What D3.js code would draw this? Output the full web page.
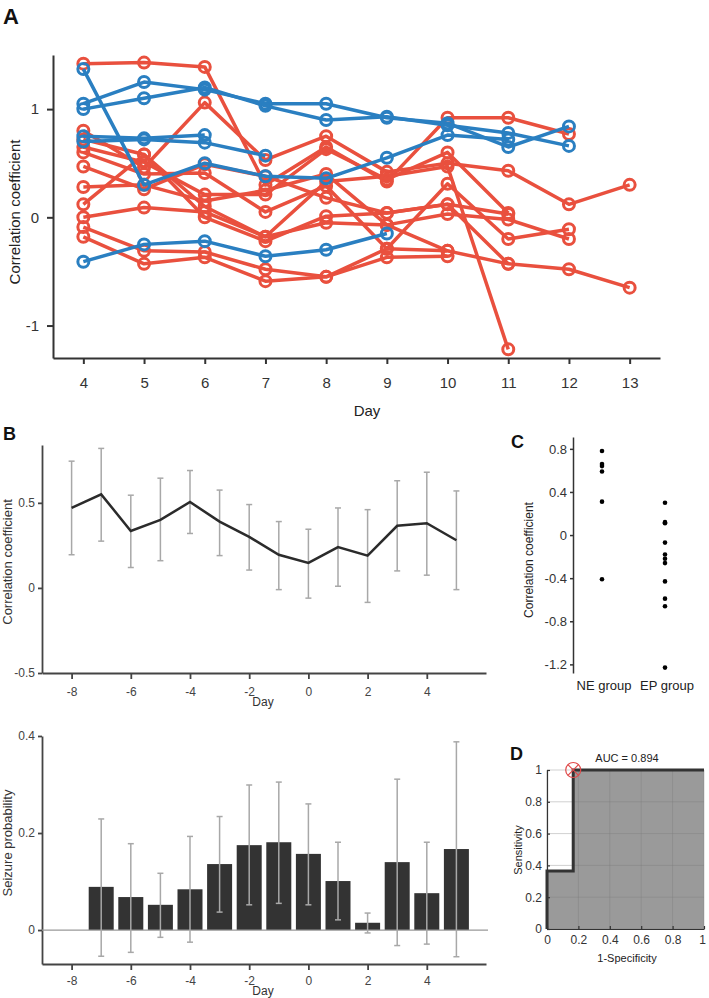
<!DOCTYPE html>
<html>
<head>
<meta charset="utf-8">
<script src="https://cdn.jsdelivr.net/npm/d3@7"></script>
<style>
  body { margin: 0; background: #fff; }
  svg { font-family: Arial, "Liberation Sans", sans-serif; }
</style>
</head>
<body>
<svg id="chart" width="709" height="998"></svg>
<script>
// ---- data ----
let daysA = [4, 5, 6, 7, 8, 9, 10, 11, 12, 13]
// NE group (blue), values per day starting at day 4, null = no recording
let neSeries = [
  [1.37, 0.30, 0.50, 0.38, 0.36, 0.55, 0.76, 0.72],
  [1.05, 1.25, 1.18, 1.05, 1.05, 0.92, 0.87, 0.65, 0.84],
  [1.00, 1.10, 1.20, 1.03, 0.90, 0.93, 0.85, 0.78, 0.66],
  [0.75, 0.73, 0.76],
  [0.70, 0.72, 0.69, 0.57],
  [-0.41, -0.25, -0.22, -0.36, -0.30, -0.15]
]
// EP group (red)
let epSeries = [
  [1.42, 1.43, 1.39, 0.30, 0.65, 0.33, 0.92, 0.92, 0.77],
  [0.80, 0.46, 1.06, 0.53, 0.75, 0.42, 0.50, 0.43, 0.12, 0.30],
  [0.72, 0.58, 0.10, -0.18, 0.33, 0.38, 0.47, -1.22],
  [0.65, 0.51, 0.21, 0.21, 0.63, 0.35, 0.60, 0.04],
  [0.60, 0.40, 0.41, 0.05, 0.29, -0.29, 0.31, -0.20, -0.11],
  [0.47, 0.26, 0.49, 0.38, 0.18, 0.04, 0.12, -0.43],
  [0.28, 0.30, 0.15, 0.25, 0.40, -0.07, 0.03, -0.02, -0.20],
  [0.12, 0.58, 0.00, -0.22, 0.01, 0.04, 0.12, 0.03],
  [0.00, 0.09, 0.05, -0.18, -0.05, -0.07, -0.31],
  [-0.09, -0.31, -0.32, -0.48, -0.55, -0.29, -0.31, -0.43, -0.48, -0.65],
  [-0.18, -0.43, -0.37, -0.59, -0.55, -0.37, -0.36]
]

let daysB = [-8, -7, -6, -5, -4, -3, -2, -1, 0, 1, 2, 3, 4, 5]
let corrMean = [0.47, 0.55, 0.335, 0.40, 0.505, 0.39, 0.30, 0.195, 0.147, 0.24, 0.19, 0.365, 0.38, 0.28]
let corrHigh = [0.745, 0.82, 0.545, 0.645, 0.69, 0.575, 0.49, 0.39, 0.345, 0.47, 0.46, 0.63, 0.68, 0.57]
let corrLow = [0.195, 0.275, 0.12, 0.16, 0.32, 0.19, 0.105, -0.01, -0.06, 0.01, -0.085, 0.10, 0.075, -0.01]

let seizProb = [0, 0.089, 0.068, 0.052, 0.084, 0.136, 0.175, 0.181, 0.157, 0.101, 0.015, 0.14, 0.076, 0.167]
let seizHigh = [null, 0.229, 0.178, 0.117, 0.193, 0.234, 0.299, 0.305, 0.26, 0.181, 0.035, 0.311, 0.181, 0.388]
let seizLow = [null, -0.054, -0.046, -0.015, -0.025, 0.037, 0.052, 0.055, 0.052, 0.021, -0.006, -0.032, -0.029, -0.055]

let groups = ['NE group', 'EP group']
let neCorr = [0.78, 0.66, 0.64, 0.59, 0.31, -0.41]
let epCorr = [0.30, 0.12, 0.11, -0.07, -0.18, -0.22, -0.26, -0.43, -0.59, -0.66, -1.23]

let rocFpr = [0, 0, 0.167, 0.167, 1]
let rocTpr = [0, 0.364, 0.364, 1, 1]
let cutFpr = 0.167
let cutTpr = 1
let aucText = 'AUC = 0.894'

let red = '#e9503e'
let blue = '#2a7fc1'

let svg = d3.select('#chart')

// plain number labels with an ASCII hyphen, like the original figure
let plain = d => String(+d.toFixed(2))

let styleAxis = (g, color, size, width) => {
  g.selectAll('path').attr('stroke', color).attr('stroke-width', width)
  g.selectAll('line').attr('stroke', color).attr('stroke-width', width)
  g.selectAll('text').attr('fill', color).style('font-size', size + 'px').attr('font-family', null)
}

let panelLabel = (t, x, y, size) => {
  svg.append('text').text(t).attr('x', x).attr('y', y)
    .style('font-size', size + 'px').style('font-weight', 'bold').attr('fill', '#111')
}

// ---- panel A ----
let drawA = () => {
  let x = d3.scaleLinear().domain([3.5, 13.5]).range([53, 660])
  let y = d3.scaleLinear().domain([-1.3, 1.5]).range([358, 55])

  let xAxis = svg.append('g').attr('transform', 'translate(0,358)')
    .call(d3.axisBottom(x).tickValues(daysA).tickFormat(plain).tickSize(6).tickSizeOuter(0).tickPadding(13))
  styleAxis(xAxis, '#333', 15, 2)
  let yAxis = svg.append('g').attr('transform', 'translate(53,0)')
    .call(d3.axisLeft(y).tickValues([-1, 0, 1]).tickFormat(plain).tickSize(6).tickSizeOuter(0).tickPadding(8))
  styleAxis(yAxis, '#333', 15, 2)

  svg.append('text').text('Day').attr('x', 367).attr('y', 416).attr('text-anchor', 'middle')
    .style('font-size', '15px').attr('fill', '#222')
  svg.append('text').text('Correlation coefficient')
    .attr('transform', 'translate(20,212) rotate(-90)').attr('text-anchor', 'middle')
    .style('font-size', '15px').attr('fill', '#222')

  let line = d3.line().defined(d => d[1] !== null).x(d => x(d[0])).y(d => y(d[1]))
  let drawSeries = (series, color) => {
    series.forEach(vals => {
      let pts = vals.map((v, i) => [daysA[i], v])
      svg.append('path').datum(pts).attr('d', line)
        .attr('fill', 'none').attr('stroke', color).attr('stroke-width', 3.5).attr('stroke-linejoin', 'round')
      svg.append('g').selectAll('circle').data(pts).enter().append('circle')
        .attr('cx', d => x(d[0])).attr('cy', d => y(d[1])).attr('r', 5.5)
        .attr('fill', 'none').attr('stroke', color).attr('stroke-width', 3)
    })
  }
  drawSeries(epSeries, red)
  drawSeries(neSeries, blue)

  panelLabel('A', 3, 24, 22)
}

// ---- panel B ----
let xB = d3.scaleLinear().domain([-9, 6]).range([42, 486])

let drawBTop = () => {
  let y = d3.scaleLinear().domain([-0.5, 0.84]).range([673, 445])
  let xAxis = svg.append('g').attr('transform', 'translate(0,673)')
    .call(d3.axisBottom(xB).tickValues([-8, -6, -4, -2, 0, 2, 4]).tickFormat(plain).tickSize(6).tickSizeOuter(0).tickPadding(8))
  styleAxis(xAxis, '#444', 12, 1.8)
  let yAxis = svg.append('g').attr('transform', 'translate(42,0)')
    .call(d3.axisLeft(y).tickValues([-0.5, 0, 0.5]).tickFormat(plain).tickSize(4).tickSizeOuter(0).tickPadding(3))
  styleAxis(yAxis, '#444', 12, 1.8)

  svg.append('text').text('Day').attr('x', 263).attr('y', 706).attr('text-anchor', 'middle')
    .style('font-size', '12px').attr('fill', '#333')
  svg.append('text').text('Correlation coefficient')
    .attr('transform', 'translate(12,562) rotate(-90)').attr('text-anchor', 'middle')
    .style('font-size', '13px').attr('fill', '#333')

  let eb = svg.append('g')
  daysB.forEach((d, i) => {
    eb.append('line').attr('x1', xB(d)).attr('x2', xB(d)).attr('y1', y(corrLow[i])).attr('y2', y(corrHigh[i]))
    eb.append('line').attr('x1', xB(d) - 3).attr('x2', xB(d) + 3).attr('y1', y(corrLow[i])).attr('y2', y(corrLow[i]))
    eb.append('line').attr('x1', xB(d) - 3).attr('x2', xB(d) + 3).attr('y1', y(corrHigh[i])).attr('y2', y(corrHigh[i]))
  })
  eb.selectAll('line').attr('stroke', '#a8a8a8').attr('stroke-width', 1.5)

  let line = d3.line().x((d, i) => xB(daysB[i])).y(d => y(d))
  svg.append('path').datum(corrMean).attr('d', line).attr('fill', 'none')
    .attr('stroke', '#2b2b2b').attr('stroke-width', 2.5)

  panelLabel('B', 3, 440, 18)
}

let drawBBottom = () => {
  let y = d3.scaleLinear().domain([-0.07, 0.4]).range([964, 736])
  let xAxis = svg.append('g').attr('transform', 'translate(0,964)')
    .call(d3.axisBottom(xB).tickValues([-8, -6, -4, -2, 0, 2, 4]).tickFormat(plain).tickSize(6).tickSizeOuter(0).tickPadding(6))
  styleAxis(xAxis, '#444', 12, 1.8)
  let yAxis = svg.append('g').attr('transform', 'translate(42,0)')
    .call(d3.axisLeft(y).tickValues([0, 0.2, 0.4]).tickFormat(plain).tickSize(4).tickSizeOuter(0).tickPadding(3))
  styleAxis(yAxis, '#444', 12, 1.8)

  svg.append('text').text('Day').attr('x', 263).attr('y', 995).attr('text-anchor', 'middle')
    .style('font-size', '12px').attr('fill', '#333')
  svg.append('text').text('Seizure probability')
    .attr('transform', 'translate(12,843) rotate(-90)').attr('text-anchor', 'middle')
    .style('font-size', '13px').attr('fill', '#333')

  let bw = 25
  svg.append('g').selectAll('rect').data(seizProb).enter().append('rect')
    .attr('x', (d, i) => xB(daysB[i]) - bw / 2)
    .attr('y', d => y(d))
    .attr('width', bw)
    .attr('height', d => y(0) - y(d))
    .attr('fill', '#333')

  svg.append('line').attr('x1', 42).attr('x2', 488).attr('y1', y(0)).attr('y2', y(0))
    .attr('stroke', '#999').attr('stroke-width', 1.2)

  let eb = svg.append('g')
  daysB.forEach((d, i) => {
    if (seizHigh[i] === null) return
    eb.append('line').attr('x1', xB(d)).attr('x2', xB(d)).attr('y1', y(seizLow[i])).attr('y2', y(seizHigh[i]))
    eb.append('line').attr('x1', xB(d) - 3).attr('x2', xB(d) + 3).attr('y1', y(seizLow[i])).attr('y2', y(seizLow[i]))
    eb.append('line').attr('x1', xB(d) - 3).attr('x2', xB(d) + 3).attr('y1', y(seizHigh[i])).attr('y2', y(seizHigh[i]))
  })
  eb.selectAll('line').attr('stroke', '#a8a8a8').attr('stroke-width', 1.5)
}

// ---- panel C ----
let drawC = () => {
  let y = d3.scaleLinear().domain([-1.28, 0.91]).range([673, 437])
  let x = d3.scalePoint().domain(groups).range([604, 667])
  let yAxis = svg.append('g').attr('transform', 'translate(573,0)')
    .call(d3.axisLeft(y).tickValues([-1.2, -0.8, -0.4, 0, 0.4, 0.8]).tickFormat(plain)
      .tickSize(3).tickSizeOuter(0).tickPadding(3))
  styleAxis(yAxis, '#333', 13, 1.5)

  groups.forEach(g => {
    svg.append('text').text(g).attr('x', x(g)).attr('y', 690).attr('text-anchor', 'middle')
      .style('font-size', '13px').attr('fill', '#222')
  })
  svg.append('text').text('Correlation coefficient')
    .attr('transform', 'translate(533,560) rotate(-90)').attr('text-anchor', 'middle')
    .style('font-size', '12px').attr('fill', '#222')

  let pts = neCorr.map(v => [groups[0], v]).concat(epCorr.map(v => [groups[1], v]))
  svg.append('g').selectAll('circle').data(pts).enter().append('circle')
    .attr('cx', d => x(d[0]) - 2).attr('cy', d => y(d[1])).attr('r', 2.3).attr('fill', '#000')

  panelLabel('C', 511, 448, 18)
}

// ---- panel D ----
let drawD = () => {
  let x = d3.scaleLinear().domain([0, 1]).range([547, 704])
  let y = d3.scaleLinear().domain([0, 1]).range([929, 770])
  let ticks = [0, 0.2, 0.4, 0.6, 0.8, 1]
  let area = d3.area().x((d, i) => x(rocFpr[i])).y0(y(0)).y1(d => y(d))
  svg.append('path').datum(rocTpr).attr('d', area).attr('fill', '#9a9a9a')

  let grid = svg.append('g')
  ticks.forEach(t => {
    grid.append('line').attr('x1', x(t)).attr('x2', x(t)).attr('y1', y(0)).attr('y2', y(1))
    grid.append('line').attr('x1', x(0)).attr('x2', x(1)).attr('y1', y(t)).attr('y2', y(t))
  })
  grid.selectAll('line').attr('stroke', '#777').attr('stroke-opacity', 0.35).attr('stroke-width', 1)

  let xAxis = svg.append('g').attr('transform', 'translate(0,929)')
    .call(d3.axisBottom(x).tickValues(ticks).tickFormat(plain).tickSize(-3).tickSizeOuter(0).tickPadding(6))
  styleAxis(xAxis, '#333', 12, 1.2)
  xAxis.selectAll('.tick text').filter(d => d === 1).attr('dx', '-2')
  let yAxis = svg.append('g').attr('transform', 'translate(547,0)')
    .call(d3.axisLeft(y).tickValues(ticks).tickFormat(plain).tickSize(-3).tickSizeOuter(0).tickPadding(5))
  styleAxis(yAxis, '#333', 12, 1.2)

  let line = d3.line().x((d, i) => x(rocFpr[i])).y(d => y(d))
  svg.append('path').datum(rocTpr).attr('d', line).attr('fill', 'none')
    .attr('stroke', '#333').attr('stroke-width', 3)

  let cx = x(cutFpr), cy = y(cutTpr), r = 7.5
  svg.append('circle').attr('cx', cx).attr('cy', cy).attr('r', r).attr('fill', 'none')
    .attr('stroke', '#e04a4a').attr('stroke-width', 1.2)
  let k = r * Math.SQRT1_2
  svg.append('path').attr('d', `M${cx - k},${cy - k}L${cx + k},${cy + k}M${cx - k},${cy + k}L${cx + k},${cy - k}`)
    .attr('stroke', '#e04a4a').attr('stroke-width', 1.2)

  svg.append('text').text(aucText).attr('x', 627).attr('y', 762).attr('text-anchor', 'middle')
    .style('font-size', '11px').attr('fill', '#222')
  svg.append('text').text('1-Specificity').attr('x', 627).attr('y', 962).attr('text-anchor', 'middle')
    .style('font-size', '11px').attr('fill', '#222')
  svg.append('text').text('Sensitivity')
    .attr('transform', 'translate(522,850) rotate(-90)').attr('text-anchor', 'middle')
    .style('font-size', '11px').attr('fill', '#222')

  panelLabel('D', 510, 760, 18)
}

drawA()
drawBTop()
drawBBottom()
drawC()
drawD()
</script>
</body>
</html>
